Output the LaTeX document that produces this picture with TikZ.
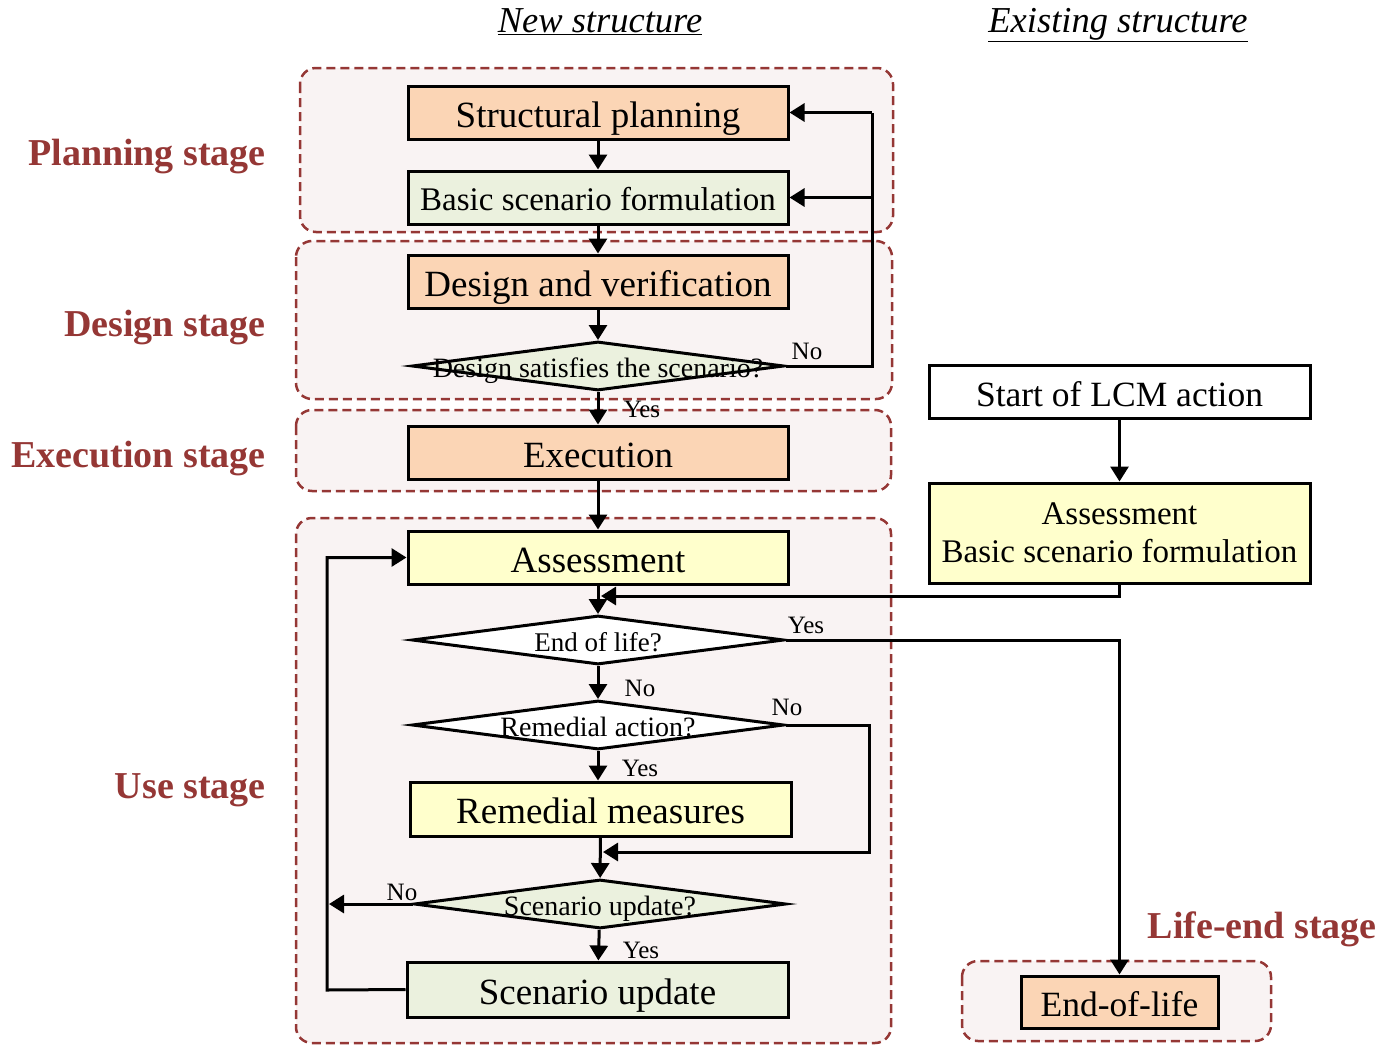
\documentclass[tikz,border=0pt]{standalone}
\usepackage{fontspec}
\setmainfont{Liberation Serif}
\usetikzlibrary{shapes.geometric,arrows.meta}

\definecolor{stagered}{HTML}{953735}
\definecolor{groupfill}{HTML}{F9F3F3}
\definecolor{peach}{HTML}{FBD5B5}
\definecolor{palegreen}{HTML}{EBF1DE}
\definecolor{paleyellow}{HTML}{FFFFCC}

\newcommand{\fs}[1]{\fontsize{#1}{#1}\selectfont}

\tikzset{
  group/.style={draw=stagered, fill=groupfill, line width=2.5, dash pattern=on 9 off 5, rounded corners=16},
  stagelabel/.style={anchor=east, text=stagered, font=\fs{38}\bfseries, inner sep=0, text height=27, text depth=0},
  box/.style={draw, line width=3, minimum width=380, minimum height=53, inner sep=0, font=\fs{37}, text height=29, text depth=0},
  decision/.style={diamond, draw, line width=3, minimum width=372, minimum height=49, inner sep=0},
  dtext/.style={font=\fs{28}, inner sep=0, text height=22, text depth=0},
  arr/.style={line width=3, -{Triangle[length=15,width=18]}},
  plain/.style={line width=3},
  ans/.style={font=\fs{25}, inner sep=0, text height=17, text depth=0},
  heading/.style={font=\fs{36.5}\itshape, inner sep=0, text height=26, text depth=10}
}

\begin{document}
\begin{tikzpicture}[x=1pt, y=-1pt]
\useasboundingbox (0,0) rectangle (1381,1044);

% column headings
\node[heading] (hnew) at (600,24) {\underline{New structure}};
\node[heading] (hold) at (1118,24) {\underline{Existing structure}};

% stage groups
\draw[group] (300,68) rectangle (893,232);
\draw[group] (296,241) rectangle (892,399);
\draw[group] (296,410) rectangle (891,491);
\draw[group] (296,518) rectangle (891,1043);
\draw[group] (962,961) rectangle (1271,1041);

% stage labels
\node[stagelabel] (lplan) at (266,152) {Planning stage};
\node[stagelabel] (ldes) at (266,323) {Design stage};
\node[stagelabel] (lexe) at (266,454) {Execution stage};
\node[stagelabel] (luse) at (266,785) {Use stage};
\node[stagelabel] (lend) at (1377,925) {Life-end stage};

% new structure flow
\node[box, fill=peach] (sp) at (598,112.5) {Structural planning};
\node[box, fill=palegreen, font=\fs{33}, text height=25] (bsf) at (598,197.5) {Basic scenario formulation};
\node[box, fill=peach] (dv) at (598,281.5) {Design and verification};
\node[decision, fill=palegreen, label={[dtext]center:Design satisfies the scenario?}] (d1) at (598,366) {};
\node[box, fill=peach] (ex) at (598,452.5) {Execution};
\node[box, fill=paleyellow] (as) at (598,557.5) {Assessment};
\node[decision, fill=white, label={[dtext, font=\fs{27}]center:End of life?}] (d2) at (598,640) {};
\node[decision, fill=white, label={[dtext]center:Remedial action?}] (d3) at (598,725) {};
\node[box, fill=paleyellow, minimum width=381, minimum height=54] (rm) at (600.5,809) {Remedial measures};
\node[decision, fill=palegreen, label={[dtext]center:Scenario update?}] (d4) at (600,904) {};
\node[box, fill=palegreen, minimum width=381, minimum height=55] (su) at (597.5,989.5) {Scenario update};

% existing structure flow
\node[box, fill=white, minimum width=381, font=\fs{35.5}] (lcm) at (1119.5,391.5) {Start of LCM action};
\node[box, fill=paleyellow, minimum width=381, minimum height=100, align=center, font=\fs{33}, text height=, text depth=] (ab) at (1119.5,533) {Assessment\\[5pt]Basic scenario formulation};
\node[box, fill=peach, minimum width=197, minimum height=52, font=\fs{35.5}] (eol) at (1119.5,1002) {End-of-life};

% junction points
\coordinate (fb) at (872,366);
\coordinate (j1) at (601,596);
\coordinate (rn) at (869,725);
\coordinate (j2) at (603,852);
\coordinate (lp) at (327,990);
\coordinate (sn) at (329,904);

% main connectors
\draw[arr] (sp) -- (bsf);
\draw[arr] (bsf) -- (dv);
\draw[arr] (dv) -- (d1);
\draw[arr] (d1) -- (ex);
\draw[arr] (ex) -- (as);
\draw[arr] (as) -- (d2);
\draw[arr] (d2) -- (d3);
\draw[arr] (d3.south) -- (d3.south |- rm.north);
\draw[arr] (rm) -- (d4);
\draw[arr] (d4) -- (su);
\draw[arr] (lcm) -- (ab);

% feedback loops
\draw[plain] (d1.east) -- (fb) -- (fb |- sp.east);
\draw[arr] (fb |- sp.east) -- (sp.east);
\draw[arr] (fb |- bsf.east) -- (bsf.east);
\draw[arr] (ab.south) |- (j1);
\draw[arr] (d2.east) -| (eol.north);
\draw[arr] (d3.east) -- (rn) |- (j2);
\draw[arr] (d4.west) -- (sn);
\draw[arr] (su.west) -- (lp) |- (as.west);

% answers
\node[ans] (a1) at (807,351) {No};
\node[ans] (a2) at (642,409) {Yes};
\node[ans] (a3) at (806,625) {Yes};
\node[ans] (a4) at (640,688) {No};
\node[ans] (a5) at (787,707) {No};
\node[ans] (a6) at (640,768) {Yes};
\node[ans] (a7) at (402,892) {No};
\node[ans] (a8) at (641,950) {Yes};
\end{tikzpicture}
\end{document}
